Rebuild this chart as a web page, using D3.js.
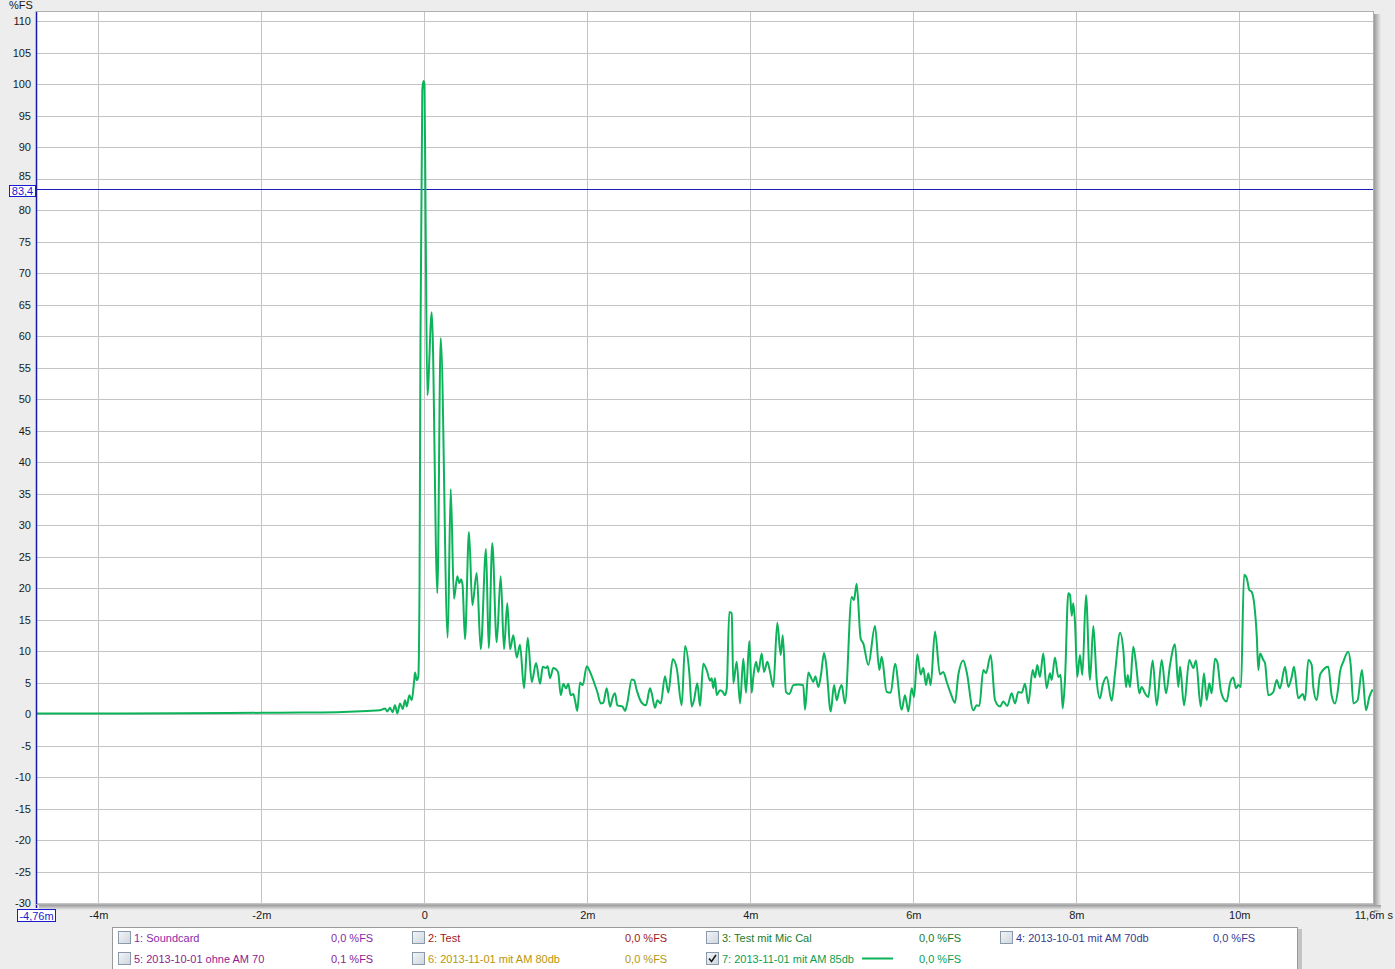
<!DOCTYPE html>
<html><head><meta charset="utf-8">
<script src="https://cdn.jsdelivr.net/npm/d3@7"></script>
<style>
html,body{margin:0;padding:0;background:#ededed;}
svg{display:block;font-family:"Liberation Sans",Arial,sans-serif;}
</style></head>
<body><svg id="c" width="1395" height="969"></svg>
<script>
// ---- data ----
const times = [-4.76,-4.0,-3.0,-2.0,-1.5,-1.0,-0.7,-0.544,-0.482,-0.454,-0.421,-0.390,-0.360,-0.331,-0.298,-0.265,-0.237,-0.216,-0.184,-0.155,-0.126,-0.114,-0.093,-0.074,-0.059,-0.047,-0.025,-0.010,0.002,0.015,0.037,0.091,0.160,0.201,0.287,0.324,0.364,0.405,0.429,0.450,0.469,0.499,0.548,0.589,0.643,0.692,0.757,0.790,0.834,0.888,0.937,0.978,1.018,1.052,1.092,1.134,1.174,1.223,1.269,1.318,1.371,1.420,1.453,1.493,1.514,1.542,1.583,1.624,1.644,1.674,1.706,1.739,1.767,1.796,1.828,1.849,1.877,1.910,1.944,1.993,2.033,2.094,2.123,2.164,2.196,2.238,2.279,2.312,2.340,2.368,2.401,2.432,2.463,2.491,2.545,2.573,2.606,2.667,2.720,2.769,2.790,2.831,2.859,2.901,2.953,2.994,3.048,3.097,3.158,3.199,3.252,3.281,3.309,3.350,3.383,3.423,3.465,3.506,3.526,3.546,3.567,3.588,3.628,3.659,3.690,3.711,3.742,3.772,3.791,3.833,3.874,3.914,3.947,3.988,4.017,4.037,4.070,4.098,4.140,4.168,4.209,4.242,4.282,4.331,4.373,4.398,4.438,4.479,4.528,4.589,4.650,4.671,4.712,4.741,4.773,4.798,4.834,4.867,4.904,4.929,4.987,5.027,5.060,5.092,5.121,5.162,5.244,5.272,5.305,5.354,5.387,5.448,5.530,5.583,5.612,5.674,5.723,5.776,5.858,5.898,5.939,5.980,6.009,6.049,6.091,6.123,6.156,6.184,6.213,6.266,6.327,6.368,6.410,6.459,6.512,6.552,6.613,6.655,6.736,6.778,6.810,6.859,6.892,6.950,7.003,7.064,7.104,7.153,7.207,7.248,7.288,7.330,7.371,7.411,7.465,7.493,7.521,7.554,7.595,7.636,7.677,7.698,7.738,7.779,7.808,7.833,7.861,7.902,7.923,7.944,7.963,7.984,8.012,8.045,8.074,8.119,8.168,8.209,8.250,8.291,8.324,8.373,8.434,8.475,8.537,8.577,8.610,8.631,8.659,8.699,8.741,8.773,8.802,8.843,8.883,8.937,8.987,9.048,9.101,9.150,9.211,9.252,9.273,9.322,9.387,9.436,9.469,9.526,9.567,9.600,9.632,9.661,9.702,9.730,9.772,9.804,9.845,9.886,9.926,9.960,9.988,10.021,10.058,10.091,10.123,10.152,10.214,10.234,10.255,10.295,10.316,10.356,10.417,10.459,10.499,10.561,10.601,10.643,10.671,10.724,10.778,10.806,10.847,10.889,10.908,10.950,10.990,11.011,11.051,11.092,11.133,11.174,11.215,11.236,11.276,11.337,11.367,11.400,11.452,11.505,11.555,11.595,11.636];
const values = [0.1,0.1,0.15,0.2,0.25,0.35,0.5,0.6,0.9,0.4,1.0,0.3,1.4,0.1,1.7,0.8,2.2,1.2,3.0,2.2,5.1,6.6,5.4,5.9,20,60,99,100.5,100,80,50.6,63.8,19.2,59.7,12.1,35.7,18.3,21.9,20.8,21.4,20.5,11.9,28.9,17.3,22.4,10.3,26.2,10.5,27.1,11.4,21.9,10.3,17.6,10.3,12.5,9.0,11.0,4.1,12.1,5.1,8.1,4.8,7.5,7.3,7.6,5.7,7.3,7.0,6.5,3.0,4.8,4.1,4.8,3.0,3.2,2.2,0.5,5.0,4.6,7.6,6.7,4.6,3.5,1.7,1.8,4.1,1.2,2.7,3.3,1.4,1.3,1.2,0.5,1.8,5.5,5.4,3.8,1.8,1.4,4.1,3.3,1.0,2.2,1.7,6.0,3.4,8.7,7.3,1.4,10.8,6.5,1.2,2.2,4.9,1.3,8.0,7.0,5.3,5.7,4.1,5.7,3.0,3.8,3.6,3.0,4.1,16.2,16.0,4.9,8.3,1.7,8.8,3.4,11.6,3.4,5.9,8.3,6.7,9.6,6.7,8.3,6.7,4.3,14.5,9.4,12.5,3.5,3.2,4.6,4.7,4.6,0.7,6.6,5.9,5.1,6.0,4.3,6.2,9.7,8.1,0.4,4.6,2.2,3.8,4.6,1.7,18.6,18.1,20.7,12.0,11.2,7.8,14.0,7.0,9.1,3.5,3.4,8.0,0.7,3.0,0.4,4.1,2.7,9.5,6.3,7.3,4.6,6.5,4.6,13.1,6.3,6.7,5.1,3.3,1.8,6.2,8.5,6.7,0.6,1.4,1.3,7.0,6.5,9.4,2.2,1.2,2.0,1.3,3.3,1.7,3.5,3.4,4.8,1.7,7.0,5.8,7.8,5.9,9.6,4.1,6.5,5.4,9.0,5.9,6.2,0.9,5.4,19.2,18.9,15.6,17.6,14.6,5.9,9.4,6.2,18.9,5.4,14.0,5.4,2.5,4.6,5.9,2.1,6.5,12.9,10.2,4.3,6.2,4.3,10.7,7.0,3.3,4.3,3.3,2.7,8.5,1.4,8.6,3.3,7.8,11.1,4.3,7.5,1.4,8.6,7.3,8.5,1.2,6.5,2.2,4.9,3.3,8.8,8.3,3.8,2.5,2.0,4.9,5.8,4.1,4.6,4.3,22.1,21.6,19.7,19.4,12.5,7.0,9.6,8.6,8.1,3.0,3.5,5.4,4.1,7.5,4.3,5.9,7.5,2.5,3.2,2.2,8.6,7.8,4.3,2.2,6.2,6.7,7.3,7.5,3.0,1.7,4.3,6.7,8.3,9.9,7.8,1.7,2.2,7.0,0.6,2.7,3.9];
const yTicks = [-30,-25,-20,-15,-10,-5,0,5,10,15,20,25,30,35,40,45,50,55,60,65,70,75,80,85,90,95,100,105,110];
const xTicks = [-4,-2,0,2,4,6,8,10];
const xTickLabels = ["-4m","-2m","0","2m","4m","6m","8m","10m"];
const cursorValue = 83.4;
const legendNames = ["1: Soundcard","2: Test","3: Test mit Mic Cal","4: 2013-10-01 mit AM 70db","5: 2013-10-01 ohne AM 70","6: 2013-11-01 mit AM 80db","7: 2013-11-01 mit AM 85db"];
const legendValues = ["0,0 %FS","0,0 %FS","0,0 %FS","0,0 %FS","0,1 %FS","0,0 %FS","0,0 %FS"];
const legendColors = ["#8a2aa8","#a01818","#1a7a2a","#3a3a90","#901a90","#b8960a","#0aa050"];
const legendChecked = [false,false,false,false,false,false,true];

// ---- layout ----
const L = 36, R = 1374, T = 11, B = 905;
const svg = d3.select("#c");
const x = d3.scaleLinear().domain([-4.76, 11.653]).range([L + 0.4, R]);
const y = d3.scaleLinear().domain([-30.3, 111.6]).range([B, T]);

const defs = svg.append("defs");
const gr = defs.append("linearGradient").attr("id","shR").attr("x1",0).attr("x2",1).attr("y1",0).attr("y2",0);
gr.append("stop").attr("offset",0).attr("stop-color","#9a9a9a");
gr.append("stop").attr("offset",1).attr("stop-color","#ededed");
const gb = defs.append("linearGradient").attr("id","shB").attr("x1",0).attr("x2",0).attr("y1",0).attr("y2",1);
gb.append("stop").attr("offset",0).attr("stop-color","#9a9a9a");
gb.append("stop").attr("offset",1).attr("stop-color","#ededed");
const cb = defs.append("linearGradient").attr("id","cbx").attr("x1",0).attr("x2",1).attr("y1",0).attr("y2",1);
cb.append("stop").attr("offset",0).attr("stop-color","#f4f6f8");
cb.append("stop").attr("offset",1).attr("stop-color","#cdd5de");
defs.append("clipPath").attr("id","clip").append("rect").attr("x",L).attr("y",T).attr("width",R-L).attr("height",B-T);

// shadows
svg.append("rect").attr("x",R).attr("y",T+3).attr("width",7).attr("height",B-T+4).attr("fill","url(#shR)");
svg.append("rect").attr("x",L+3).attr("y",B).attr("width",R-L+4).attr("height",5).attr("fill","url(#shB)");
// plot area
svg.append("rect").attr("x",L).attr("y",T).attr("width",R-L).attr("height",B-T).attr("fill","#fff");

// grid
const g = svg.append("g").attr("clip-path","url(#clip)");
g.selectAll(".hg").data(yTicks).join("line")
  .attr("x1",L).attr("x2",R).attr("y1",d=>Math.round(y(d))+0.5).attr("y2",d=>Math.round(y(d))+0.5)
  .attr("stroke","#c4c4c4").attr("stroke-width",1);
g.selectAll(".vg").data(xTicks).join("line")
  .attr("y1",T).attr("y2",B).attr("x1",d=>Math.round(x(d))+0.5).attr("x2",d=>Math.round(x(d))+0.5)
  .attr("stroke","#c4c4c4").attr("stroke-width",1);

// cursor line
g.append("line").attr("x1",L).attr("x2",R).attr("y1",Math.round(y(cursorValue))+0.5).attr("y2",Math.round(y(cursorValue))+0.5)
  .attr("stroke","#1c1cb8").attr("stroke-width",1);

// data line
const pts = times.map((t,i)=>[t, values[i]]);
g.append("path").datum(pts)
  .attr("d", d3.line().x(d=>x(d[0])).y(d=>y(d[1])).curve(d3.curveMonotoneX))
  .attr("fill","none").attr("stroke","#0db35a").attr("stroke-width",2).attr("stroke-linejoin","round");

// frame lines
svg.append("line").attr("x1",L+0.5).attr("x2",L+0.5).attr("y1",T).attr("y2",B+3).attr("stroke","#1a1aa0").attr("stroke-width",1.5);
svg.append("line").attr("x1",L).attr("x2",R).attr("y1",T+0.5).attr("y2",T+0.5).attr("stroke","#b0b0b0");
svg.append("line").attr("x1",R-0.5).attr("x2",R-0.5).attr("y1",T).attr("y2",B).attr("stroke","#b0b0b0");
svg.append("line").attr("x1",L).attr("x2",R).attr("y1",B-0.5).attr("y2",B-0.5).attr("stroke","#b0b0b0");

// y axis labels via d3 axis
const yAxis = d3.axisLeft(y).tickValues(yTicks).tickSize(0).tickPadding(5).tickFormat(d=>String(d));
const ya = svg.append("g").attr("transform",`translate(${L},0)`).call(yAxis);
ya.select(".domain").remove();
ya.selectAll("text").attr("font-size",11).attr("fill","#1a1a1a").attr("font-family","Liberation Sans, Arial, sans-serif");
ya.selectAll(".tick").filter(d=>d===85).select("text").attr("dy","0.1em");
svg.append("text").attr("x",9).attr("y",9).attr("font-size",11).attr("fill","#1a1a1a").text("%FS");

// x axis labels
const xAxis = d3.axisBottom(x).tickValues(xTicks).tickSize(0).tickPadding(5).tickFormat((d,i)=>xTickLabels[i]);
const xa = svg.append("g").attr("transform",`translate(0,${B+1})`).call(xAxis);
xa.select(".domain").remove();
xa.selectAll("text").attr("font-size",11).attr("fill","#1a1a1a").attr("font-family","Liberation Sans, Arial, sans-serif");
svg.append("text").attr("x",1393).attr("y",919).attr("text-anchor","end").attr("font-size",11).attr("fill","#1a1a1a").text("11,6m s");

// cursor boxes
function boxLabel(cx, cy, w, h, txt){
  svg.append("rect").attr("x",cx+0.5).attr("y",cy+0.5).attr("width",w).attr("height",h).attr("fill","#fff").attr("stroke","#1a1ad0");
  svg.append("text").attr("x",cx+w/2+0.5).attr("y",cy+h-1.5).attr("text-anchor","middle").attr("font-size",11).attr("fill","#1a1ad0").text(txt);
}
boxLabel(9, Math.round(y(cursorValue))-4, 26, 11, "83,4");
boxLabel(17, 909, 38, 12, "-4,76m");

// legend
svg.append("rect").attr("x",114).attr("y",929).attr("width",1188).attr("height",44).attr("fill","#a8a8a8").attr("opacity",0.6);
svg.append("rect").attr("x",112.5).attr("y",927.5).attr("width",1185).attr("height",44).attr("fill","#fff").attr("stroke","#9a9a9a");
const lg = svg.append("g");
legendNames.forEach((name,i)=>{
  const col = i<4 ? i : i-4, row = i<4 ? 0 : 1;
  const bx = 118 + col*294, by = 931 + row*21;
  lg.append("rect").attr("x",bx+0.5).attr("y",by+0.5).attr("width",12).attr("height",12).attr("fill","url(#cbx)").attr("stroke","#8a9aaa");
  if(legendChecked[i]){
    lg.append("path").attr("d",`M${bx+3},${by+6.5} L${bx+5.5},${by+9.5} L${bx+10},${by+3}`).attr("fill","none").attr("stroke","#1a1a1a").attr("stroke-width",1.6);
  }
  lg.append("text").attr("x",bx+16).attr("y",by+10.5).attr("font-size",11).attr("fill",legendColors[i]).text(name);
  lg.append("text").attr("x",bx+213).attr("y",by+10.5).attr("font-size",11).attr("fill",legendColors[i]).text(legendValues[i]);
  if(legendChecked[i]){
    lg.append("line").attr("x1",bx+156).attr("x2",bx+187).attr("y1",by+6.5).attr("y2",by+6.5).attr("stroke","#0db35a").attr("stroke-width",2);
  }
});
</script>
</body></html>
